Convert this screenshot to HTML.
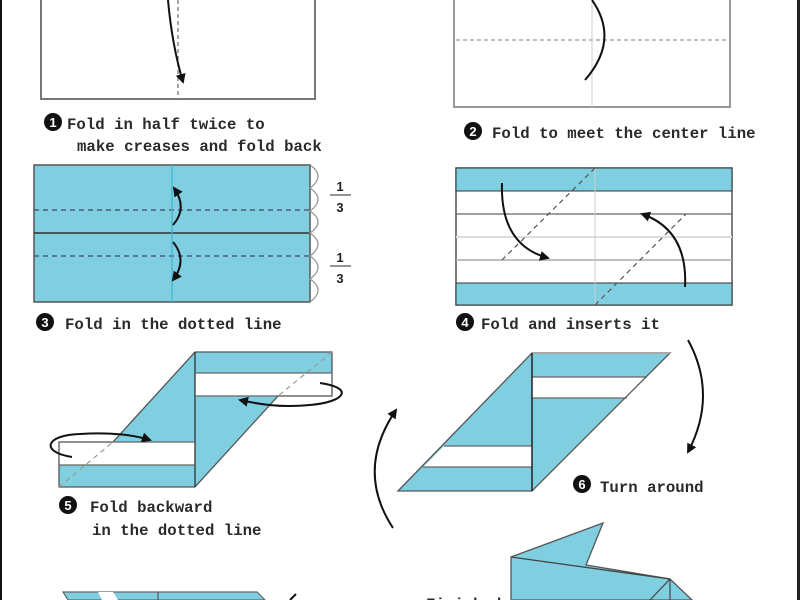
<!DOCTYPE html>
<html><head><meta charset="utf-8"><style>
html,body{margin:0;padding:0;background:#fff;}
svg{display:block}
text{font-family:"Liberation Mono","DejaVu Sans Mono",monospace;font-size:15.7px;fill:#2a2a2a;font-weight:bold;}
.n{font-family:"Liberation Sans",sans-serif;font-weight:bold;font-size:13px;fill:#fff;text-anchor:middle}
.f{font-family:"Liberation Sans",sans-serif;font-size:13px;font-weight:bold;text-anchor:middle;fill:#222}
</style></head><body>
<svg width="800" height="600" viewBox="0 0 800 600" xmlns="http://www.w3.org/2000/svg">
<defs>
<marker id="ah" markerWidth="10" markerHeight="10" refX="8" refY="5" orient="auto" markerUnits="userSpaceOnUse"><path d="M0,0 L10,5 L0,10 z" fill="#111"/></marker>
</defs>
<rect x="0" y="0" width="800" height="600" fill="#fff"/>
<rect x="0" y="0" width="2" height="600" fill="#111"/>
<rect x="797" y="0" width="3" height="600" fill="#222"/>

<!-- Step 1 -->
<path d="M41,0 V99 H315 V0" fill="none" stroke="#777" stroke-width="2"/>
<line x1="178" y1="0" x2="178" y2="99" stroke="#888" stroke-width="1.5" stroke-dasharray="4,3"/>
<path d="M168,0 Q172,45 183,82" fill="none" stroke="#111" stroke-width="2" marker-end="url(#ah)"/>
<circle cx="53" cy="122" r="9" fill="#111"/><text class="n" x="53" y="127">1</text>
<text x="67" y="129">Fold in half twice to</text>
<text x="77" y="151">make creases and fold back</text>

<!-- Step 2 -->
<path d="M454,0 V107 H730 V0" fill="none" stroke="#999" stroke-width="2"/>
<line x1="456" y1="40" x2="729" y2="40" stroke="#aaa" stroke-width="1.5" stroke-dasharray="4,3"/>
<line x1="592" y1="0" x2="592" y2="107" stroke="#ccc" stroke-width="1"/>
<path d="M592,0 Q620,40 585,80" fill="none" stroke="#111" stroke-width="2"/>
<circle cx="473" cy="131" r="9" fill="#111"/><text class="n" x="473" y="136">2</text>
<text x="492" y="138">Fold to meet the center line</text>

<!-- Step 3 -->
<rect x="34" y="165" width="276" height="137" fill="#7fcfe1" stroke="#555" stroke-width="1.5"/>
<line x1="34" y1="233" x2="310" y2="233" stroke="#333" stroke-width="1.5"/>
<line x1="34" y1="210" x2="310" y2="210" stroke="#446" stroke-width="1.2" stroke-dasharray="5,4"/>
<line x1="34" y1="256" x2="310" y2="256" stroke="#446" stroke-width="1.2" stroke-dasharray="5,4"/>
<line x1="172" y1="165" x2="172" y2="302" stroke="#3bb6d0" stroke-width="1.2"/>
<path d="M173,225 Q188,208 174,188" fill="none" stroke="#111" stroke-width="2" marker-end="url(#ah)"/>
<path d="M173,242 Q188,260 173,280" fill="none" stroke="#111" stroke-width="2" marker-end="url(#ah)"/>
<path d="M310,165 q16,11 0,23 q16,11 0,23 q16,11 0,22 q16,11 0,23 q16,11 0,23 q16,11 0,23" fill="none" stroke="#999" stroke-width="1.3"/>
<text class="f" x="340" y="191">1</text>
<line x1="330" y1="195" x2="351" y2="195" stroke="#555" stroke-width="1.2"/>
<text class="f" x="340" y="212">3</text>
<text class="f" x="340" y="262">1</text>
<line x1="330" y1="266" x2="351" y2="266" stroke="#555" stroke-width="1.2"/>
<text class="f" x="340" y="283">3</text>
<circle cx="45" cy="322" r="9" fill="#111"/><text class="n" x="45" y="327">3</text>
<text x="65" y="329">Fold in the dotted line</text>

<!-- Step 4 -->
<rect x="456" y="168" width="276" height="137" fill="#fff" stroke="#555" stroke-width="1.5"/>
<rect x="456" y="168" width="276" height="23" fill="#7fcfe1" stroke="#333" stroke-width="1"/>
<rect x="456" y="283" width="276" height="22" fill="#7fcfe1" stroke="#333" stroke-width="1"/>
<line x1="456" y1="214" x2="732" y2="214" stroke="#666" stroke-width="1.3"/>
<line x1="456" y1="237" x2="732" y2="237" stroke="#ddd" stroke-width="2"/>
<line x1="456" y1="260" x2="732" y2="260" stroke="#aaa" stroke-width="1.5"/>
<line x1="595" y1="168" x2="595" y2="305" stroke="#ccc" stroke-width="1"/>
<line x1="595" y1="168" x2="502" y2="260" stroke="#555" stroke-width="1.2" stroke-dasharray="5,4"/>
<line x1="595" y1="305" x2="686" y2="214" stroke="#555" stroke-width="1.2" stroke-dasharray="5,4"/>
<path d="M502,183 Q500,245 548,258" fill="none" stroke="#111" stroke-width="2" marker-end="url(#ah)"/>
<path d="M685,287 Q688,230 642,214" fill="none" stroke="#111" stroke-width="2" marker-end="url(#ah)"/>
<circle cx="465" cy="322" r="9" fill="#111"/><text class="n" x="465" y="327">4</text>
<text x="481" y="329">Fold and inserts it</text>

<!-- Step 5 -->
<polygon points="113,442 195,352 195,442" fill="#7fcfe1"/>
<polygon points="195,396 278,396 195,487" fill="#7fcfe1"/>
<rect x="195" y="352" width="137" height="21" fill="#7fcfe1"/>
<rect x="195" y="373" width="137" height="23" fill="#fff"/>
<rect x="59" y="442" width="136" height="23" fill="#fff"/>
<rect x="59" y="465" width="136" height="22" fill="#7fcfe1"/>
<polygon points="195,352 332,352 332,396 278,396 195,487 59,487 59,442 113,442" fill="none" stroke="#555" stroke-width="1.3"/>
<line x1="195" y1="352" x2="195" y2="487" stroke="#333" stroke-width="1.3"/>
<line x1="195" y1="373" x2="332" y2="373" stroke="#666" stroke-width="1.2"/>
<line x1="195" y1="396" x2="332" y2="396" stroke="#666" stroke-width="1.2"/>
<line x1="59" y1="442" x2="195" y2="442" stroke="#666" stroke-width="1.2"/>
<line x1="59" y1="465" x2="195" y2="465" stroke="#666" stroke-width="1.2"/>
<line x1="59" y1="487" x2="113" y2="442" stroke="#999" stroke-width="1.2" stroke-dasharray="5,4"/>
<line x1="332" y1="352" x2="278" y2="396" stroke="#999" stroke-width="1.2" stroke-dasharray="5,4"/>
<path d="M72,457 C40,452 45,435 80,434 C110,432 135,435 150,440" fill="none" stroke="#111" stroke-width="2" marker-end="url(#ah)"/>
<path d="M320,383 C355,388 345,402 310,405 C280,408 258,404 240,400" fill="none" stroke="#111" stroke-width="2" marker-end="url(#ah)"/>
<circle cx="68" cy="505" r="9" fill="#111"/><text class="n" x="68" y="510">5</text>
<text x="90" y="512">Fold backward</text>
<text x="92" y="535">in the dotted line</text>

<!-- Step 6 -->
<polygon points="398,491 532,353 532,491" fill="#7fcfe1"/>
<polygon points="532,353 670,353 532,491" fill="#7fcfe1"/>
<polygon points="532,377 647,377 627,398 532,398" fill="#fff"/>
<polygon points="444,446 532,446 532,467 423,467" fill="#fff"/>
<line x1="532" y1="377" x2="647" y2="377" stroke="#666" stroke-width="1.2"/>
<line x1="532" y1="398" x2="627" y2="398" stroke="#666" stroke-width="1.2"/>
<line x1="444" y1="446" x2="532" y2="446" stroke="#666" stroke-width="1.2"/>
<line x1="423" y1="467" x2="532" y2="467" stroke="#666" stroke-width="1.2"/>
<polygon points="398,491 532,353 670,353 532,491" fill="none" stroke="#555" stroke-width="1.3"/>
<line x1="532" y1="353" x2="670" y2="353" stroke="#aaa" stroke-width="2"/>
<line x1="532" y1="353" x2="532" y2="491" stroke="#222" stroke-width="1.5"/>
<path d="M688,340 Q718,395 688,452" fill="none" stroke="#111" stroke-width="2" marker-end="url(#ah)"/>
<path d="M393,528 Q355,470 396,410" fill="none" stroke="#111" stroke-width="2" marker-end="url(#ah)"/>
<circle cx="582" cy="484" r="9" fill="#111"/><text class="n" x="582" y="489">6</text>
<text x="600" y="492">Turn around</text>

<!-- Finished -->
<polygon points="511,557 603,523 586,565 670,579 692,600 511,600" fill="#7fcfe1" stroke="#555" stroke-width="1.3"/>
<line x1="511" y1="557" x2="670" y2="579" stroke="#444" stroke-width="1.3"/>
<line x1="670" y1="579" x2="670" y2="600" stroke="#444" stroke-width="1.2"/>
<line x1="670" y1="579" x2="650" y2="600" stroke="#444" stroke-width="1.2"/>
<text x="426" y="609">Finished</text>

<!-- Bottom-left partial -->
<polygon points="63,592 257,592 265,600 68,600" fill="#7fcfe1" stroke="#666" stroke-width="1.2"/>
<polygon points="98,592 113,592 118,600 102,600" fill="#fff"/>
<line x1="158" y1="592" x2="158" y2="600" stroke="#444" stroke-width="1"/>
<path d="M290,600 L296,594" stroke="#111" stroke-width="2"/>
</svg>
</body></html>
